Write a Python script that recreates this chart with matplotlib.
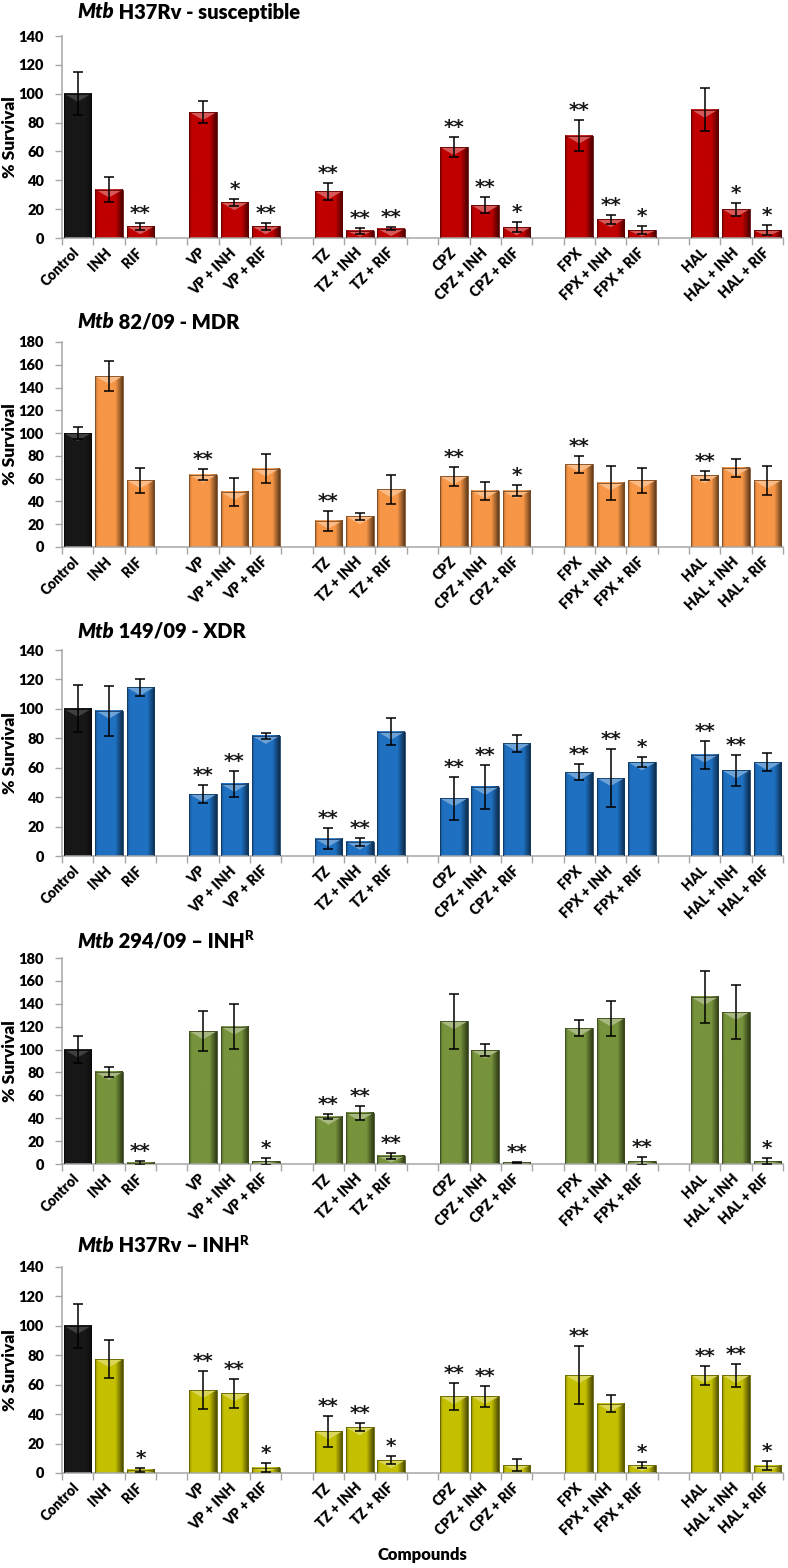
import matplotlib
matplotlib.use("Agg")
import matplotlib.pyplot as plt
import numpy as np
from matplotlib.colors import to_rgb
from matplotlib.patches import Polygon

plt.rcParams['font.family'] = ['Lato', 'DejaVu Sans']
plt.rcParams['font.weight'] = 'heavy'

# categories (gaps between groups are added when drawing)
compounds = ["Control", "INH", "RIF",
             "VP", "VP + INH", "VP + RIF",
             "TZ", "TZ + INH", "TZ + RIF",
             "CPZ", "CPZ + INH", "CPZ + RIF",
             "FPX", "FPX + INH", "FPX + RIF",
             "HAL", "HAL + INH", "HAL + RIF"]

# Mtb H37Rv - susceptible
h37rv_val = [100, 33.6, 8.1, 87.3, 24.8, 8.1, 32.4, 5.1, 6.5, 63, 22.7, 7.4, 71, 13, 5.3, 89, 20, 5.3]
h37rv_err = [15, 8.5, 2.5, 7.5, 2.5, 2.5, 6, 2, 1, 7, 5.5, 3.5, 11, 3.2, 2.8, 15, 4.5, 3.5]
h37rv_sig = ["", "", "**", "", "*", "**", "**", "**", "**", "**", "**", "*", "**", "**", "*", "", "*", "*"]

# Mtb 82/09 - MDR
mdr_val = [100, 150, 58.5, 63.5, 48.3, 68.8, 23, 27, 50.6, 62, 49.5, 49.5, 72.6, 56.5, 58.5, 63, 69.4, 58.5]
mdr_err = [5, 13, 11, 5, 12, 13, 9, 3, 13, 8.5, 8, 5, 7.4, 15, 11, 4, 8, 12.5]
mdr_sig = ["", "", "", "**", "", "", "**", "", "", "**", "", "*", "**", "", "", "**", "", ""]

# Mtb 149/09 - XDR
xdr_val = [100, 98.8, 114.6, 42.1, 49, 81.6, 11.8, 9.7, 84.5, 39.2, 46.9, 76.6, 56.9, 53, 63.7, 68.9, 58.2, 63.7]
xdr_err = [16, 17, 5.7, 6, 9, 2, 7, 2.8, 9, 14.5, 14.7, 5.6, 5.4, 19.5, 3.4, 9.5, 10.7, 6.1]
xdr_sig = ["", "", "", "**", "**", "", "**", "**", "", "**", "**", "", "**", "**", "*", "**", "**", ""]

# Mtb 294/09 - INH resistant
r294_val = [100, 80.4, 1, 116, 120, 2.3, 41.4, 44.6, 7, 124.7, 99.3, 1.5, 118.8, 127.3, 2.6, 146, 132.8, 2.3]
r294_err = [12, 4.6, 1.5, 17.5, 19.5, 3, 2, 6.4, 2.6, 24, 5.3, 0.5, 7, 15.5, 3.2, 22.4, 23.6, 2.7]
r294_sig = ["", "", "**", "", "", "*", "**", "**", "**", "", "", "**", "", "", "**", "", "", "*"]

# Mtb H37Rv - INH resistant
rvr_val = [100, 77.3, 2.3, 56.4, 54.1, 3.6, 28.3, 31, 8.6, 52.1, 52.1, 5.4, 66.4, 47.1, 5.4, 66.4, 66.4, 5]
rvr_err = [15, 13, 1.3, 13, 10, 3.2, 10.6, 2.7, 2.7, 9, 7, 4, 19.7, 5.9, 1.8, 6.6, 8, 3.2]
rvr_sig = ["", "", "*", "**", "**", "*", "**", "**", "*", "**", "**", "", "**", "", "*", "**", "**", "*"]

W, H = 788, 1568
fig = plt.figure(figsize=(W / 100, H / 100), dpi=100)

panels = [
    (h37rv_val, h37rv_err, h37rv_sig, "#C00000", 140, 36, 238, 12, " H37Rv - susceptible", ""),
    (mdr_val, mdr_err, mdr_sig, "#F79646", 180, 342, 547, 322, " 82/09 - MDR", ""),
    (xdr_val, xdr_err, xdr_sig, "#1F70C1", 140, 650, 856, 631, " 149/09 - XDR", ""),
    (r294_val, r294_err, r294_sig, "#77933C", 180, 958, 1164, 941, " 294/09 \u2013 INH", "R"),
    (rvr_val, rvr_err, rvr_sig, "#C4C000", 140, 1267, 1473, 1246, " H37Rv \u2013 INH", "R"),
]

pos = np.array([i + i // 3 for i in range(len(compounds))])
n_slots = pos[-1] + 1
bw = 0.88
profile = np.concatenate([np.linspace(0.75, 1.0, 6), np.ones(30), np.linspace(1.0, 0.4, 14)])


def draw_panel(ax, vals, errs, sigs, color, ymax):
    ax.set_xlim(-0.5, n_slots - 0.5)
    ax.set_ylim(0, ymax)
    ppu = ax.get_position().height * H / ymax
    for i, (x, v, e, s) in enumerate(zip(pos, vals, errs, sigs)):
        base = np.array(to_rgb("#101010" if i == 0 else color))
        img = np.clip(base[None, None, :] * profile[None, :, None], 0, 1)
        if i == 0:
            img = np.clip(img + 0.03, 0, 1)
        ax.imshow(img, extent=(x - bw / 2, x + bw / 2, 0, v), aspect='auto',
                  interpolation='bilinear', zorder=2)
        light = base + (1 - base) * (0.35 if i else 0.2)
        d = min(8 / ppu, v * 0.8)
        ax.add_patch(Polygon([(x - bw / 2, v), (x + bw / 2, v), (x, v - d)],
                             closed=True, facecolor=light, edgecolor='none', zorder=3))
        ax.add_patch(plt.Rectangle((x - bw / 2, 0), bw, v, fill=False,
                                   edgecolor=base * 0.5, lw=0.6, zorder=3))
        ax.errorbar(x, v, yerr=e, color='black', capsize=3.5, elinewidth=1.1,
                    capthick=1.1, zorder=4)
        if s:
            ax.annotate(s, (x, v + e), xytext=(0, 0), textcoords='offset points',
                        ha='center', va='bottom', fontsize=14.5, family='DejaVu Sans',
                        fontweight='bold', color='#1a1a1a')
    ax.set_xlim(-0.5, n_slots - 0.5)
    ax.set_ylim(0, ymax)
    ax.set_yticks(np.arange(0, ymax + 1, 20))
    ax.set_xticks(pos)
    ax.set_xticklabels(compounds, rotation=45, ha='right', va='center',
                       rotation_mode='anchor', fontsize=10)
    ax.set_xticks(np.arange(n_slots + 1) - 0.5, minor=True)
    ax.tick_params(axis='x', which='major', length=0, pad=9)
    ax.tick_params(axis='x', which='minor', length=5, color='#A6A6A6', width=1)
    ax.tick_params(axis='y', length=5, color='#A6A6A6', width=1, labelsize=10.5, pad=8)
    for side in ['top', 'right']:
        ax.spines[side].set_visible(False)
    for side in ['left', 'bottom']:
        ax.spines[side].set_color('#A6A6A6')
        ax.spines[side].set_linewidth(1.1)


for vals, errs, sigs, color, ymax, top, bottom, ty, title, sup in panels:
    ax = fig.add_axes([62 / W, 1 - bottom / H, (783 - 62) / W, (bottom - top) / H])
    draw_panel(ax, vals, errs, sigs, color, ymax)
    t1 = fig.text(77 / W, 1 - ty / H, "Mtb", style='italic', fontsize=14.5, va='center')
    t2 = ax.annotate(title, xy=(1, 0), xycoords=t1, va='bottom', fontsize=14.5)
    if sup:
        ax.annotate(sup, xy=(1, 1), xycoords=t2, va='top', fontsize=9.5,
                    xytext=(0, 1), textcoords='offset points')
    fig.text(10 / W, 1 - (top + bottom) / 2 / H, "% Survival", rotation=90,
             ha='center', va='center', fontsize=12.5)

fig.text(422 / W, 1 - 1555 / H, "Compounds", ha='center', va='center', fontsize=12)

fig.savefig("out.png", dpi=100)
